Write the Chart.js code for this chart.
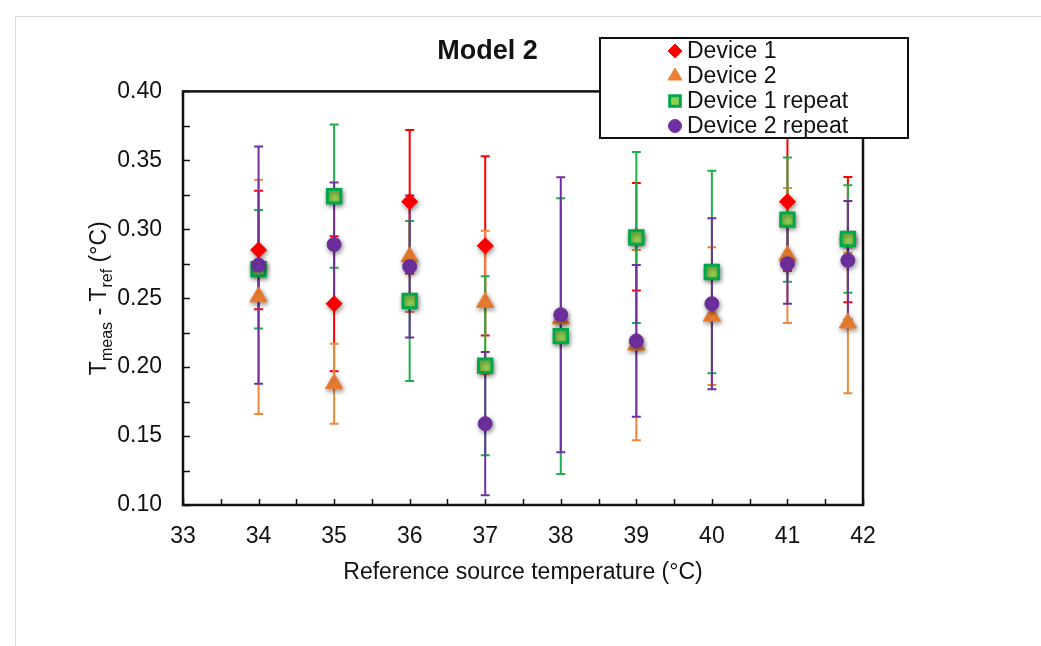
<!DOCTYPE html>
<html>
<head>
<meta charset="utf-8">
<script src="https://cdn.jsdelivr.net/npm/chart.js@4.4.1/dist/chart.umd.min.js"></script>
<style>
  html, body { margin: 0; padding: 0; background: #fff; }
  #wrap { position: relative; width: 1041px; height: 646px; overflow: hidden; }
  #frame { position: absolute; left: 15px; top: 16px; width: 1100px; height: 700px;
           border-left: 1px solid #dcdcdc; border-top: 1px solid #dcdcdc; }
  canvas { position: absolute; left: 0; top: 0; }
</style>
</head>
<body>
<div id="wrap"><div id="frame"></div><canvas id="chart" width="1041" height="646"></canvas></div>
<script>
// reference temperatures (°C)
const xValues = [34, 35, 36, 37, 38, 39, 40, 41, 41.8];

// Tmeas - Tref and error bar half-widths, one entry per temperature
const device1 = [0.285, 0.246, 0.320, 0.288, null, 0.2945, null, 0.320, 0.2925];
const device1Err = [0.043, 0.049, 0.052, 0.065, null, 0.039, null, 0.050, 0.0455];
const device2 = [0.251, 0.188, 0.280, 0.247, 0.235, 0.216, 0.237, 0.281, 0.232];
const device2Err = [0.085, 0.029, 0.040, 0.052, 0, 0.069, 0.050, 0.049, 0.051];
const device1Rep = [0.271, 0.324, 0.248, 0.201, 0.2225, 0.294, 0.269, 0.307, 0.293];
const device1RepErr = [0.043, 0.052, 0.058, 0.065, 0.100, 0.062, 0.0735, 0.045, 0.039];
const device2Rep = [0.274, 0.289, 0.273, 0.159, 0.238, 0.219, 0.246, 0.275, 0.2775];
const device2RepErr = [0.086, 0.045, 0.0515, 0.052, 0.0998, 0.055, 0.062, 0.029, 0.043];

const FONT = '"Liberation Sans", Arial, sans-serif';
const INK = '#111';

function points(ys, errs) {
    return xValues
        .map((x, i) => (ys[i] == null ? null : { x: x, y: ys[i], err: errs[i] }))
        .filter(Boolean);
}

// frame round the plot + inward tick marks
const frameTicks = {
    id: 'frameTicks',
    beforeDatasetsDraw(chart) {
        const { ctx, chartArea: a, scales: { x, y } } = chart;
        ctx.save();
        ctx.strokeStyle = INK;
        ctx.lineWidth = 1.5;
        ctx.beginPath();
        for (let v = 0.1; v <= 0.4001; v += 0.025) {
            const py = Math.round(y.getPixelForValue(v)) + 0.5;
            ctx.moveTo(a.left, py);
            ctx.lineTo(a.left + 7, py);
        }
        for (let v = 33; v <= 42.001; v += 0.5) {
            const px = Math.round(x.getPixelForValue(v)) + 0.5;
            ctx.moveTo(px, a.bottom);
            ctx.lineTo(px, a.bottom - 6);
        }
        ctx.stroke();
        ctx.lineWidth = 2.5;
        ctx.strokeRect(a.left, a.top, a.right - a.left, a.bottom - a.top);
        ctx.restore();
    }
};

// vertical error bars, drawn under the markers
const errorBars = {
    id: 'errorBars',
    beforeDatasetsDraw(chart) {
        const { ctx, scales: { x, y } } = chart;
        chart.data.datasets.forEach((ds) => {
            ctx.save();
            ctx.strokeStyle = ds.errorColor;
            ctx.lineWidth = 2;
            ds.data.forEach((p) => {
                if (!p.err) return;
                const px = x.getPixelForValue(p.x);
                const top = y.getPixelForValue(p.y + p.err);
                const bot = y.getPixelForValue(p.y - p.err);
                ctx.beginPath();
                ctx.moveTo(px, top);
                ctx.lineTo(px, bot);
                ctx.moveTo(px - 4.5, top);
                ctx.lineTo(px + 4.5, top);
                ctx.moveTo(px - 4.5, bot);
                ctx.lineTo(px + 4.5, bot);
                ctx.stroke();
            });
            ctx.restore();
        });
    }
};

// soft shadow behind the markers
const markerShadow = {
    id: 'markerShadow',
    beforeDatasetDraw(chart) {
        const ctx = chart.ctx;
        ctx.save();
        ctx.shadowColor = 'rgba(0,0,0,0.45)';
        ctx.shadowBlur = 5;
        ctx.shadowOffsetX = 1;
        ctx.shadowOffsetY = 2;
    },
    afterDatasetDraw(chart) {
        chart.ctx.restore();
    }
};

// y title with subscripts
const yTitle = {
    id: 'yTitle',
    afterDraw(chart) {
        const { ctx, chartArea: a } = chart;
        const parts = [
            ['T', 23, 0], ['meas', 16, 6], [' - T', 23, 0], ['ref', 16, 6], [' (°C)', 23, 0]
        ];
        ctx.save();
        let total = 0;
        parts.forEach((p) => {
            ctx.font = p[1] + 'px ' + FONT;
            total += ctx.measureText(p[0]).width;
        });
        ctx.translate(106, (a.top + a.bottom) / 2);
        ctx.rotate(-Math.PI / 2);
        ctx.fillStyle = INK;
        ctx.textBaseline = 'alphabetic';
        let cx = -total / 2;
        parts.forEach((p) => {
            ctx.font = p[1] + 'px ' + FONT;
            ctx.fillText(p[0], cx, p[2]);
            cx += ctx.measureText(p[0]).width;
        });
        ctx.restore();
    }
};

// boxed legend overlapping the plot's top right corner
const legendBox = {
    id: 'legendBox',
    afterDraw(chart) {
        const ctx = chart.ctx;
        ctx.save();
        ctx.fillStyle = '#fff';
        ctx.fillRect(600, 38, 308, 100);
        ctx.lineWidth = 2;
        ctx.strokeStyle = INK;
        ctx.strokeRect(600, 38, 308, 100);
        chart.data.datasets.forEach((ds, i) => {
            const cy = 51 + i * 25;
            ctx.fillStyle = ds.backgroundColor;
            ctx.strokeStyle = ds.borderColor;
            ctx.lineWidth = ds.borderWidth;
            Chart.helpers.drawPoint(ctx, {
                pointStyle: ds.pointStyle, radius: ds.legendRadius,
                borderWidth: ds.borderWidth, rotation: 0
            }, 675, cy);
            ctx.fillStyle = INK;
            ctx.font = '23px ' + FONT;
            ctx.textBaseline = 'middle';
            ctx.fillText(ds.label, 687, cy + 1);
        });
        ctx.restore();
    }
};

new Chart(document.getElementById('chart'), {
    type: 'scatter',
    data: {
        datasets: [
            {
                label: 'Device 1', data: points(device1, device1Err), order: 3,
                pointStyle: 'rectRot', pointRadius: 8, legendRadius: 7,
                backgroundColor: '#ff0000', borderColor: '#ff0000', borderWidth: 1,
                errorColor: '#ff0000'
            },
            {
                label: 'Device 2', data: points(device2, device2Err), order: 2,
                pointStyle: 'triangle', pointRadius: 10, legendRadius: 8,
                backgroundColor: '#ee8033', borderColor: '#ee8033', borderWidth: 1,
                errorColor: '#f0883a'
            },
            {
                label: 'Device 1 repeat', data: points(device1Rep, device1RepErr), order: 1,
                pointStyle: 'rect', pointRadius: 9.5, legendRadius: 7.5,
                backgroundColor: '#92d050', borderColor: '#00a84a', borderWidth: 3,
                errorColor: '#1fae4c'
            },
            {
                label: 'Device 2 repeat', data: points(device2Rep, device2RepErr), order: 0,
                pointStyle: 'circle', pointRadius: 7, legendRadius: 6.5,
                backgroundColor: '#7030a0', borderColor: '#7030a0', borderWidth: 1,
                errorColor: '#7030a0'
            }
        ]
    },
    options: {
        responsive: false,
        animation: false,
        layout: { padding: { left: 112, right: 178, top: 0, bottom: 0 } },
        plugins: {
            legend: { display: false },
            tooltip: { enabled: false },
            title: {
                display: true, text: 'Model 2', color: INK,
                font: { family: FONT, size: 27, weight: 'bold' },
                padding: { top: 35, bottom: 24 }
            }
        },
        scales: {
            x: {
                type: 'linear', min: 33, max: 42,
                grid: { display: false, drawTicks: false },
                border: { display: false },
                ticks: { stepSize: 1, padding: 18, color: INK, font: { family: FONT, size: 23 } },
                title: {
                    display: true, text: 'Reference source temperature (°C)', color: INK,
                    font: { family: FONT, size: 23 }, padding: { top: 0, bottom: 60 }
                },
                afterFit(s) { s.height = 141; }
            },
            y: {
                min: 0.1, max: 0.4,
                grid: { display: false, drawTicks: false },
                border: { display: false },
                ticks: {
                    stepSize: 0.05, padding: 21, color: INK, font: { family: FONT, size: 23 },
                    callback: (v) => v.toFixed(2)
                },
                afterFit(s) { s.width = 71; }
            }
        }
    },
    plugins: [frameTicks, errorBars, markerShadow, yTitle, legendBox]
});
</script>
</body>
</html>
